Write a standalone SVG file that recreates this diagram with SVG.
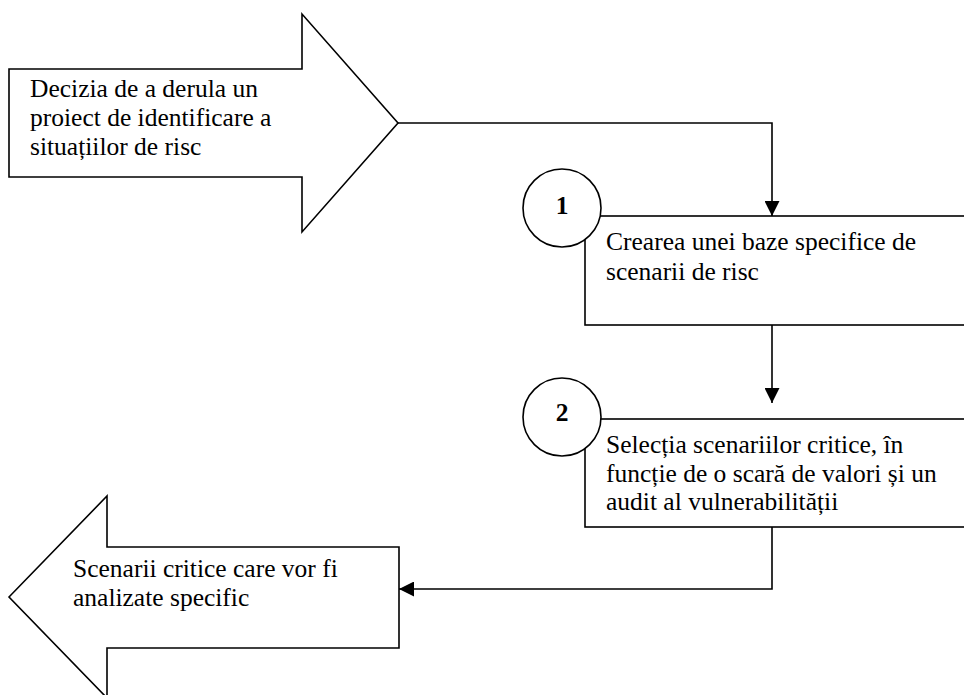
<svg xmlns="http://www.w3.org/2000/svg" width="964" height="695" viewBox="0 0 964 695">
<defs>
<style>
.sh{fill:#fff;stroke:#000;stroke-width:1.6}
.ln{fill:none;stroke:#000;stroke-width:1.6}
.t{font-family:"Liberation Serif","Times New Roman",serif;font-size:25.5px;fill:#000}
.n{font-family:"Liberation Serif","Times New Roman",serif;font-size:25.5px;font-weight:bold;fill:#000;text-anchor:middle}
</style>
<marker id="ah" viewBox="0 0 10 10" refX="10" refY="5" markerWidth="15" markerHeight="15" markerUnits="userSpaceOnUse" orient="auto">
<path d="M0,0 L10,5 L0,10 z" fill="#000"/>
</marker>
</defs>
<rect width="964" height="695" fill="#fff"/>
<g id="start">
<polygon class="sh" points="9,69 302,69 302,14 398,123 302,232 302,177 9,177"/>
<text class="t" x="30" y="97">Decizia de a derula un</text>
<text class="t" x="30" y="126">proiect de identificare a</text>
<text class="t" x="30" y="155">situațiilor de risc</text>
</g>
<g id="step1">
<rect class="sh" x="585" y="216" width="390" height="109"/>
<circle class="sh" cx="562" cy="208" r="39"/>
<text class="n" x="562" y="214">1</text>
<text class="t" x="606" y="250">Crearea unei baze specifice de</text>
<text class="t" x="606" y="280">scenarii de risc</text>
</g>
<g id="step2">
<rect class="sh" x="585" y="419" width="390" height="108"/>
<circle class="sh" cx="562" cy="417" r="39"/>
<text class="n" x="562" y="421">2</text>
<text class="t" x="606" y="453">Selecția scenariilor critice, în</text>
<text class="t" x="606" y="482">funcție de o scară de valori și un</text>
<text class="t" x="606" y="510">audit al vulnerabilității</text>
</g>
<g id="end">
<polygon class="sh" points="9,597 107,496 107,547 399,547 399,648 107,648 107,698"/>
<text class="t" x="73" y="577">Scenarii critice care vor fi</text>
<text class="t" x="73" y="606">analizate specific</text>
</g>
<g id="connectors">
<polyline class="ln" points="398,123 772,123 772,216" marker-end="url(#ah)"/>
<polyline class="ln" points="772,325 772,403" marker-end="url(#ah)"/>
<polyline class="ln" points="772,527 772,589 399,589" marker-end="url(#ah)"/>
</g>
</svg>
